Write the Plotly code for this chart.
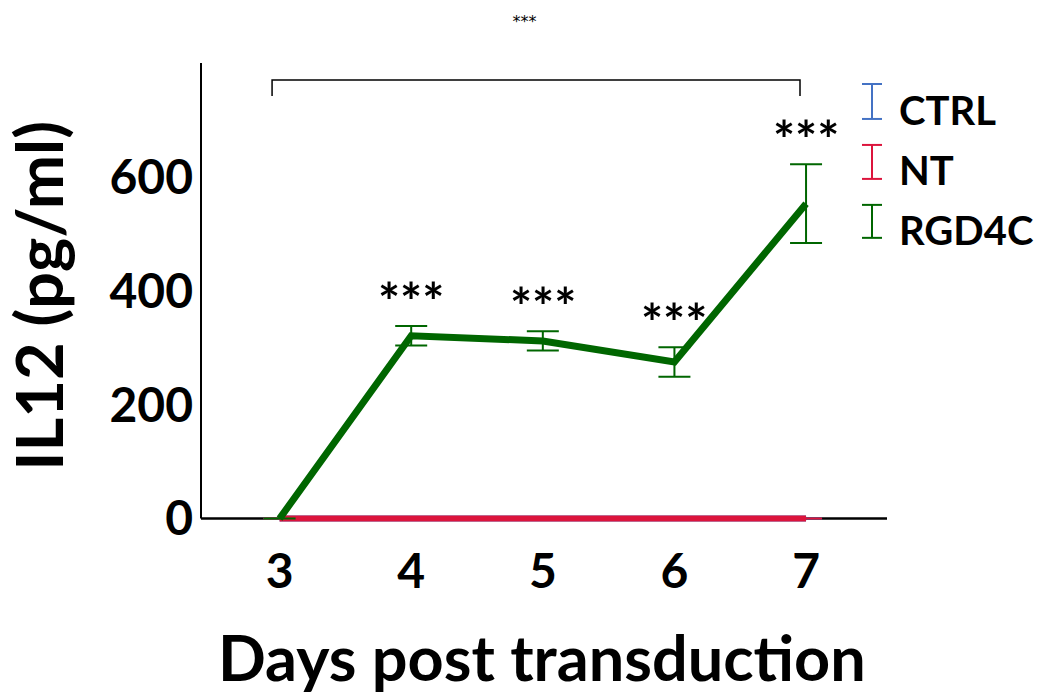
import plotly.graph_objects as go

# IL12 secretion over days post transduction
days = [3, 4, 5, 6, 7]
ctrl_mean = [0, 0, 0, 0, 0]
ctrl_err = [0, 0, 0, 0, 0]
nt_mean = [0, 0, 0, 0, 0]
nt_err = [0, 0, 0, 0, 0]
rgd4c_mean = [0, 321, 312, 275, 553]
rgd4c_err = [0, 17, 17, 26, 69]
star_days = [4, 5, 6, 7]
star_labels = ["***", "***", "***", "***"]

series_names = ["CTRL", "NT", "RGD4C"]
series_colors = ["#4472C4", "#DC143C", "#006600"]

FONT = "Lato"
Y_MIN, Y_MAX = -20, 800

fig = go.Figure()

for name, mean, err, color, width in [
    ("CTRL", ctrl_mean, ctrl_err, series_colors[0], 6),
    ("NT", nt_mean, nt_err, series_colors[1], 6),
    ("RGD4C", rgd4c_mean, rgd4c_err, series_colors[2], 7),
]:
    fig.add_trace(go.Scatter(
        x=days, y=mean, name=name, mode="lines",
        line=dict(color=color, width=width),
        error_y=dict(type="data", array=err, visible=True,
                     color=color, thickness=2, width=16),
        showlegend=False,
    ))

# significance stars above each RGD4C point
for d, lab in zip(star_days, star_labels):
    i = days.index(d)
    fig.add_annotation(
        x=d, y=rgd4c_mean[i] + rgd4c_err[i], text=lab, showarrow=False,
        yanchor="middle", yshift=25,
        font=dict(family=FONT, size=52, color="black", weight="bold"),
    )

# comparison bracket between day 3 and day 7
fig.add_shape(type="path", xref="x", yref="y",
              path="M 2.943,742 L 2.943,770 L 6.954,770 L 6.954,742",
              line=dict(color="black", width=1.5))

# page geometry of the plotting area (pixels)
L, R, T = 201, 887, 63
B = 519 + (0 - Y_MIN) * (519 - T) / Y_MAX
W, H = R - L, B - T


def px(x):
    return (x - L) / W


def py(y):
    return (B - y) / H


# legend drawn as error-bar glyphs with labels
legend_rows = [(84, 119, 110), (145, 179, 170), (205, 238, 230)]
for name, color, (y0, y1, yc) in zip(series_names, series_colors, legend_rows):
    cx = 872
    for x0, yy0, x1, yy1 in [(cx, y0, cx, y1), (cx - 10, y0, cx + 10, y0),
                             (cx - 10, y1, cx + 10, y1)]:
        fig.add_shape(type="line", xref="paper", yref="paper",
                      x0=px(x0), y0=py(yy0), x1=px(x1), y1=py(yy1),
                      line=dict(color=color, width=2))
    fig.add_annotation(xref="paper", yref="paper", x=px(897), y=py(yc),
                       text=name, showarrow=False, xanchor="left",
                       yanchor="middle",
                       font=dict(family=FONT, size=40, color="black",
                                 weight="bold"))

# axis titles
fig.add_annotation(xref="paper", yref="paper", x=px(38), y=py(296),
                   text="IL12 (pg/ml)", showarrow=False, textangle=-90,
                   xanchor="center", yanchor="middle",
                   font=dict(family=FONT, size=65, color="black",
                             weight="bold"))
fig.add_annotation(xref="paper", yref="paper", x=px(542), y=py(657),
                   text="Days post transduction", showarrow=False,
                   xanchor="center", yanchor="middle",
                   font=dict(family=FONT, size=63, color="black",
                             weight="bold"))

fig.update_layout(
    width=1043, height=697,
    margin=dict(l=L, r=1043 - R, t=T, b=697 - B),
    paper_bgcolor="white", plot_bgcolor="white",
    title=dict(text="***", x=px(546), xanchor="center", y=1 - 21 / 697,
               yanchor="middle",
               font=dict(family="DejaVu Sans", size=16, color="black")),
    xaxis=dict(range=[2.403, 7.615], tickvals=days,
               ticktext=[str(d) for d in days],
               showgrid=False, zeroline=False, showline=False, ticks="",
               tickfont=dict(family=FONT, size=48, color="black",
                             weight="bold"),
               ticklabelstandoff=9),
    yaxis=dict(range=[Y_MIN, Y_MAX], tickvals=[0, 200, 400, 600],
               showgrid=False, zeroline=False, showline=False, ticks="",
               tickfont=dict(family=FONT, size=48, color="black",
                             weight="bold"),
               ticklabelstandoff=7),
)

# axis lines: y axis from zero to the top, x axis along zero
fig.add_shape(type="line", xref="paper", yref="y", x0=0, x1=0,
              y0=0, y1=Y_MAX, line=dict(color="black", width=2),
              layer="below")
fig.add_shape(type="line", xref="paper", yref="y", x0=0, x1=1, y0=0, y1=0,
              line=dict(color="black", width=2.5), layer="below")

fig.write_html("out.html")
